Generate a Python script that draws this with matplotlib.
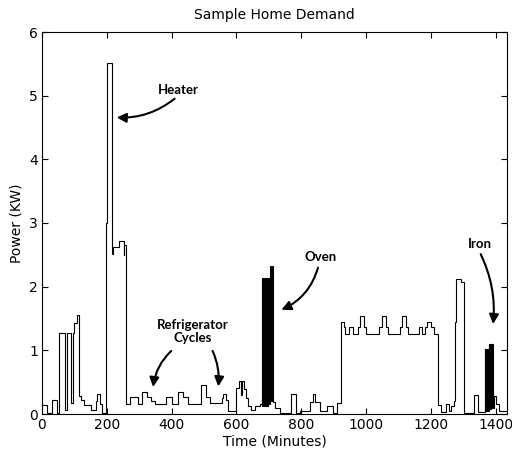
import numpy as np
import matplotlib.pyplot as plt

# step edges (minutes) and power (kW)
t_morning = [0, 14, 30, 45, 53, 70, 76, 90, 96, 100, 108, 115, 121, 131, 150, 167, 170, 180, 184, 196, 200, 217, 220, 238, 252, 254]
p_morning = [0.14, 0.02, 0.22, 0.02, 1.27, 0.06, 1.27, 0.17, 1.27, 1.43, 1.56, 0.28, 0.22, 0.14, 0.07, 0.2, 0.31, 0.15, 0.02, 3.0, 5.52, 2.52, 2.62, 2.72, 2.5, 2.65]

t_fridge = [258, 272, 295, 310, 325, 335, 348, 384, 400, 420, 436, 451, 492, 505, 518, 554, 560, 567, 575, 600, 608, 615, 618, 623, 630, 637, 644, 657, 673]
p_fridge = [0.16, 0.26, 0.16, 0.34, 0.26, 0.21, 0.16, 0.26, 0.16, 0.34, 0.26, 0.16, 0.45, 0.26, 0.18, 0.25, 0.31, 0.22, 0.04, 0.41, 0.52, 0.3, 0.52, 0.4, 0.25, 0.12, 0.06, 0.12, 0.15]

t_oven = [678, 680, 682, 685, 687, 690, 692, 695, 697, 700, 701, 702, 703, 704, 705, 706, 707, 708, 709, 710, 711, 712]
p_oven = [2.14, 0.12, 2.14, 0.12, 2.14, 0.12, 2.14, 0.12, 2.14, 0.15, 2.14, 0.15, 2.33, 0.2, 2.33, 0.2, 2.33, 0.2, 2.33, 0.2, 2.33, 0.25]

t_evening = [713, 718, 733, 769, 785, 795, 826, 836, 841, 857, 879, 898, 911, 924, 931, 936, 948, 961, 975, 982, 994, 1000,
             1040, 1050, 1062, 1067, 1105, 1112, 1122, 1130, 1163, 1173, 1183, 1188, 1202, 1210,
             1223, 1232, 1247, 1255, 1262, 1270, 1274, 1278, 1294, 1301, 1333, 1346]
p_evening = [0.19, 0.1, 0.02, 0.31, 0.02, 0.05, 0.19, 0.31, 0.19, 0.05, 0.13, 0.02, 0.17, 1.45, 1.37, 1.26, 1.37, 1.26, 1.37, 1.54, 1.37, 1.26,
             1.37, 1.54, 1.37, 1.26, 1.37, 1.54, 1.37, 1.26, 1.37, 1.26, 1.37, 1.45, 1.37, 1.26,
             0.14, 0.03, 0.15, 0.04, 0.12, 0.2, 1.45, 2.12, 2.07, 0.02, 0.3, 0.03]

t_iron = [1366, 1368, 1369, 1371, 1372, 1374, 1375, 1377, 1378, 1380, 1381, 1383, 1384, 1386, 1387, 1389, 1390, 1392]
p_iron = [1.02, 0.05, 1.02, 0.05, 1.02, 0.05, 1.02, 0.05, 1.1, 0.08, 1.1, 0.08, 1.1, 0.08, 1.1, 0.1, 1.1, 0.1]

t_night = [1394, 1400, 1410, 1425]
p_night = [0.28, 0.15, 0.05, 0.04]
t_end = 1440

edges = t_morning + t_fridge + t_oven + t_evening + t_iron + t_night + [t_end]
power = p_morning + p_fridge + p_oven + p_evening + p_iron + p_night

fig = plt.figure(figsize=(5.12, 4.51), dpi=100)
ax = fig.add_axes([42/512, 1 - 414/451, 465/512, 382/451])
plt.rcParams['font.family'] = ['Liberation Sans', 'DejaVu Sans']

ax.stairs(power, edges, color='black', lw=0.8, baseline=None)

ax.set_xlim(0, 1435)
ax.set_ylim(0, 6)
ax.set_xticks(range(0, 1401, 200))
ax.set_yticks(range(0, 7))
ax.tick_params(direction='in', top=True, right=True, length=4, labelsize=10, pad=3)
for s in ax.spines.values():
    s.set_linewidth(0.8)

ax.set_title('Sample Home Demand', fontsize=10, pad=9)
ax.set_xlabel('Time (Minutes)', fontsize=10, labelpad=2)
ax.set_ylabel('Power (KW)', fontsize=10, labelpad=4)

lab = dict(fontsize=9.5, fontweight='bold', family='Lato', ha='center', va='center')
arr = dict(arrowstyle='-|>', color='black', lw=1.5, mutation_scale=14)

ax.text(422, 5.09, 'Heater', **lab)
ax.annotate('', xy=(222, 4.66), xytext=(416, 4.98),
            arrowprops=dict(arr, connectionstyle='arc3,rad=-0.2'))

ax.text(464, 1.30, 'Refrigerator\nCycles', linespacing=1.1, **lab)
ax.annotate('', xy=(342, 0.38), xytext=(405, 1.02),
            arrowprops=dict(arr, connectionstyle='arc3,rad=0.2'))
ax.annotate('', xy=(543, 0.39), xytext=(523, 1.03),
            arrowprops=dict(arr, connectionstyle='arc3,rad=-0.15'))

ax.text(860, 2.46, 'Oven', **lab)
ax.annotate('', xy=(731, 1.62), xytext=(854, 2.34),
            arrowprops=dict(arr, connectionstyle='arc3,rad=-0.25'))

ax.text(1350, 2.67, 'Iron', **lab)
ax.annotate('', xy=(1391, 1.37), xytext=(1350, 2.55),
            arrowprops=dict(arr, connectionstyle='arc3,rad=-0.15'))

fig.savefig('out.png', dpi=100)
